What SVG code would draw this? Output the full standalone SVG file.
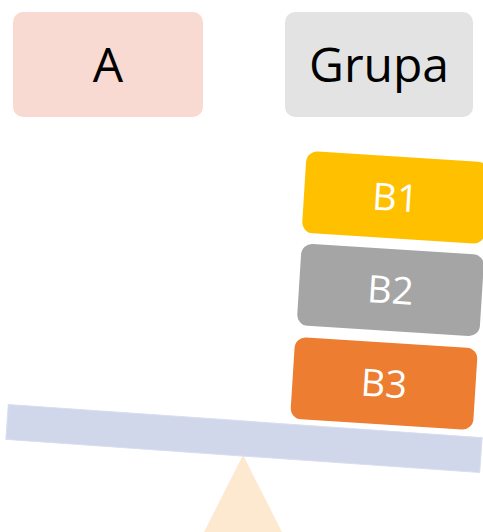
<svg xmlns="http://www.w3.org/2000/svg" width="483" height="532" viewBox="0 0 483 532">
<style>
.t{font-family:"Open Sans","Noto Sans",sans-serif;text-anchor:middle}
.big{font-size:48px;fill:#000}
.w{font-size:38px;fill:#fff}
</style>
<rect width="483" height="532" fill="#fff"/>
<g id="fulcrum"><polygon points="243,455 202,536 284,536" fill="#FDE9D0"/></g>
<g id="beam"><rect x="-237.5" y="-17.5" width="475" height="35" transform="translate(244,438.5) rotate(4)" fill="#D0D7EA" stroke="#D8DEEF" stroke-width="1"/></g>
<g id="A"><rect x="13" y="12" width="190" height="105" rx="10" fill="#F8DAD3"/><text class="t big" x="108" y="82">A</text></g>
<g id="Grupa"><rect x="285" y="12" width="188" height="105" rx="10" fill="#E3E3E3"/><text class="t big" x="379" y="82">Grupa</text></g>
<g id="B1" transform="translate(395.5,197.5) rotate(3.6)"><rect x="-91.5" y="-41" width="183" height="82" rx="11" fill="#FFC000"/><text class="t w" y="13.5">B1</text></g>
<g id="B2" transform="translate(390.5,290) rotate(3.6)"><rect x="-91.5" y="-41" width="183" height="82" rx="11" fill="#A5A5A5"/><text class="t w" y="13.5">B2</text></g>
<g id="B3" transform="translate(384,383.5) rotate(3.6)"><rect x="-91.5" y="-41" width="183" height="82" rx="11" fill="#ED7D31"/><text class="t w" y="13.5">B3</text></g>
<g id="connectors"/>
</svg>
